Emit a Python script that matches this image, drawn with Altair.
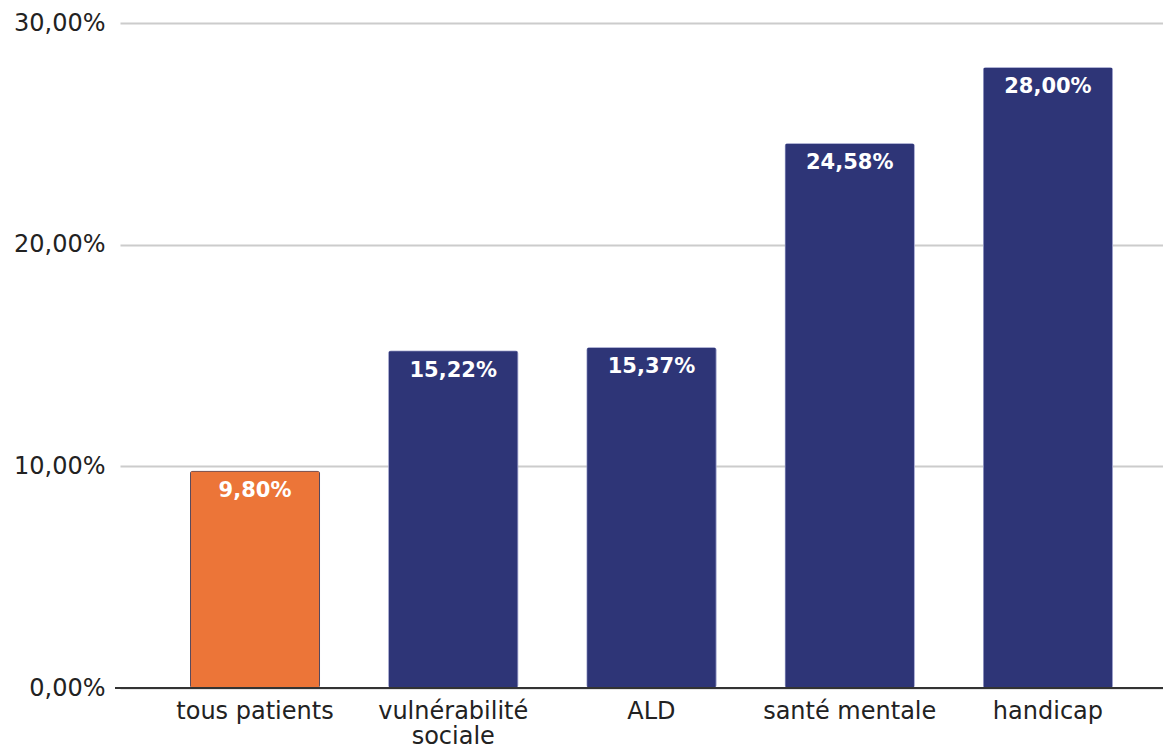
import altair as alt
import pandas as pd

categories = ["tous patients", "vulnérabilité sociale", "ALD", "santé mentale", "handicap"]
values = [0.098, 0.1522, 0.1537, 0.2458, 0.28]
colors = ["#EC7538", "#2E3577", "#2E3577", "#2E3577", "#2E3577"]
strokes = ["#1F3A6B", "#B9BCE0", "#B9BCE0", "#B9BCE0", "#B9BCE0"]
y_ticks = [0, 0.1, 0.2, 0.3]

df = pd.DataFrame({"cat": categories, "val": values, "color": colors, "stroke": strokes})

FONT = "DejaVu Sans"

x = alt.X(
    "cat:N",
    sort=categories,
    title=None,
    scale=alt.Scale(paddingInner=0.344, paddingOuter=0.3027, align=0.583),
    axis=alt.Axis(
        labelAngle=0,
        labelFont=FONT,
        labelFontSize=24,
        labelColor="#222222",
        labelPadding=11,
        labelLineHeight=25,
        ticks=False,
        domain=False,
        labelExpr="datum.value == 'vulnérabilité sociale' ? ['vulnérabilité', 'sociale'] : datum.value",
    ),
)
y = alt.Y(
    "val:Q",
    title=None,
    scale=alt.Scale(domain=[0, 0.3], nice=False),
    axis=alt.Axis(
        values=y_ticks,
        labelFont=FONT,
        labelFontSize=24,
        labelColor="#222222",
        labelPadding=15,
        ticks=False,
        domain=False,
        gridColor="#CCCCCC",
        gridWidth=2,
        labelExpr="replace(format(datum.value, '.2%'), '.', ',')",
    ),
)

bars = alt.Chart(df).mark_bar(cornerRadius=3, strokeWidth=1.5).encode(
    x=x,
    y=y,
    color=alt.Color("color:N", scale=None),
    stroke=alt.Stroke("stroke:N", scale=None),
)

labels = alt.Chart(df).transform_calculate(
    lab="replace(format(datum.val, '.2%'), '.', ',')"
).mark_text(
    baseline="top", dy=9, color="white", font=FONT, fontSize=21, fontWeight="bold"
).encode(
    x=alt.X("cat:N", sort=categories),
    y="val:Q",
    text="lab:N",
)

baseline = alt.Chart(df).mark_rule(color="#333333", strokeWidth=2).encode(
    x=alt.value(-5), x2=alt.value(1043), y=alt.value(665)
)

chart = alt.layer(bars, labels, baseline).properties(
    width=1043,
    height=665,
    padding={"left": 112, "top": 15, "right": 0, "bottom": 58},
    autosize="none",
).configure_view(stroke=None)

chart.save("out.html", embed_options={"renderer": "svg", "actions": False})
